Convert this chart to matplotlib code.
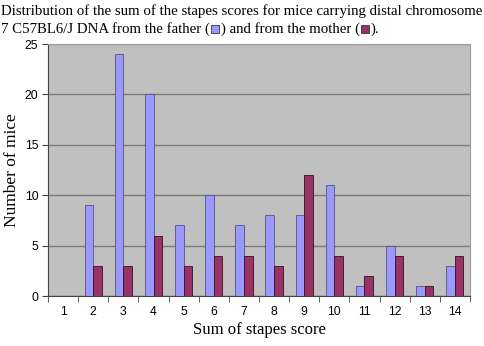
import numpy as np
import matplotlib.pyplot as plt
from matplotlib.patches import Rectangle

scores = [1, 2, 3, 4, 5, 6, 7, 8, 9, 10, 11, 12, 13, 14]
father = [0, 9, 24, 20, 7, 10, 7, 8, 8, 11, 1, 5, 1, 3]
mother = [0, 3, 3, 6, 3, 4, 4, 3, 12, 4, 2, 4, 1, 4]

blue = '#9999FF'
plum = '#993366'

fig = plt.figure(figsize=(4.84, 3.46), dpi=100)
ax = fig.add_axes([0.0992, 0.1445, 0.8718, 0.7283])
ax.set_facecolor('#C0C0C0')

x = np.arange(len(scores))
w = 0.285
ax.bar(x - w / 2, father, w, color=blue, edgecolor='#555577', linewidth=0.6, zorder=3)
ax.bar(x + w / 2, mother, w, color=plum, edgecolor='#331122', linewidth=0.6, zorder=3)

ax.set_xlim(-0.5, len(scores) - 0.5)
ax.set_ylim(0, 25)
ax.set_yticks([0, 5, 10, 15, 20, 25])
ax.yaxis.grid(True, color='#7a7a7a', linewidth=1.0, zorder=1)
ax.set_xticks(x)
ax.set_xticklabels(scores)
ax.set_xticks(np.arange(-0.5, len(scores)), minor=True)
ax.tick_params(axis='x', which='major', length=0, pad=7)
ax.tick_params(axis='x', which='minor', length=4, direction='out', color='#444444')
ax.tick_params(axis='y', length=4, direction='out', color='#444444', pad=3)
for lab in ax.get_xticklabels() + ax.get_yticklabels():
    lab.set_fontfamily('Liberation Sans')
    lab.set_fontsize(8.8)

for s in ['top', 'right']:
    ax.spines[s].set_color('#a0a0a0')
ax.spines['left'].set_color('#444444')
ax.spines['bottom'].set_color('#444444')

ax.set_ylabel('Number of mice', fontfamily='Liberation Serif', fontsize=12.5, labelpad=3)
ax.set_xlabel('Sum of stapes score', fontfamily='Liberation Serif', fontsize=12, labelpad=3)

# title, with small coloured squares like the legend keys
tfont = dict(fontfamily='Liberation Serif', fontsize=10.7, va='baseline')
fig.text(0.002, 0.958, 'Distribution of the sum of the stapes scores for mice carrying distal chromosome', **tfont)
fig.canvas.draw()
r = fig.canvas.get_renderer()
y2 = 0.905
pieces = ['7 C57BL6/J DNA from the father (', blue, ') and from the mother (', plum, ').']
xpos = 0.002
for p in pieces:
    if p.startswith('#'):
        sw = 8 / 484
        sh = 8 / 346
        fig.add_artist(Rectangle((xpos + 1.5 / 484, y2 - 0.5 / 346), sw, sh, transform=fig.transFigure,
                                 facecolor=p, edgecolor='#333333', linewidth=0.6))
        xpos += sw + 3 / 484
    else:
        t = fig.text(xpos, y2, p, **tfont)
        bb = t.get_window_extent(renderer=r)
        xpos += bb.width / 484

fig.savefig('out.png', dpi=100)
